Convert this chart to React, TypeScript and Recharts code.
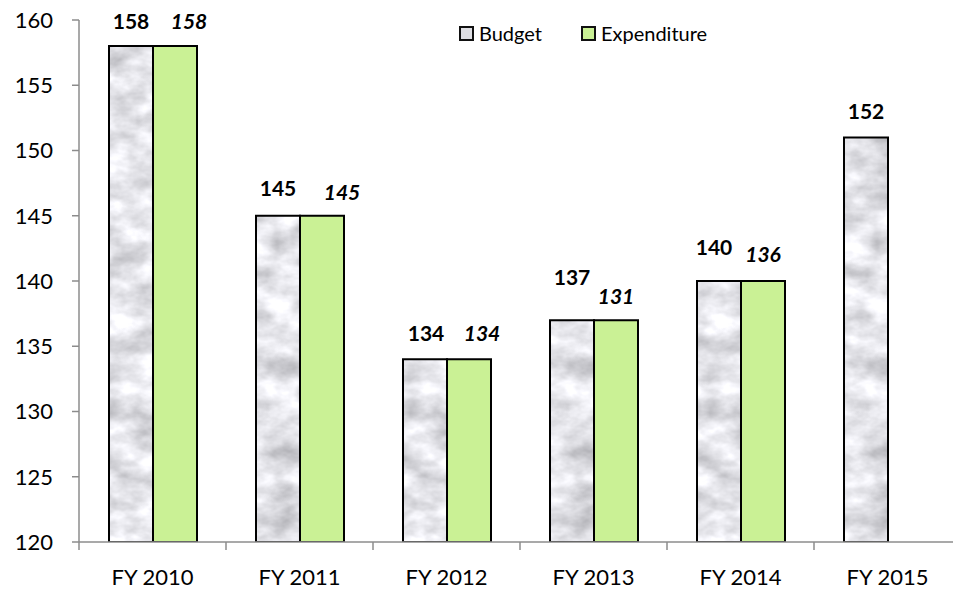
import React from "react"
import { BarChart, Bar, XAxis, YAxis, LabelList } from "recharts"

const years = ["FY 2010", "FY 2011", "FY 2012", "FY 2013", "FY 2014", "FY 2015"]
const budget = [158, 145, 134, 137, 140, 151]
const expenditure: (number | null)[] = [158, 145, 134, 137, 140, null]
const budgetLabels = ["158", "145", "134", "137", "140", "152"]
const expenditureLabels: (string | null)[] = ["158", "145", "134", "131", "136", null]
const yTicks = [120, 125, 130, 135, 140, 145, 150, 155, 160]
const seriesNames = ["Budget", "Expenditure"]

const chartData = years.map((year, i) => ({
  year,
  budget: budget[i],
  expenditure: expenditure[i],
  budgetLabel: budgetLabels[i],
  expenditureLabel: expenditureLabels[i],
}))

// label placement tweaks (distance above bar top, horizontal nudge)
const budgetLift = [26, 28, 27, 44, 35, 27]
const budgetNudge = [0, 0, 1, 0, -5, 0]
const expLift = [26, 24, 27, 25, 28]
const expNudge = [14, 20, 13, 0, 0]

const FONT = "Lato, 'Open Sans', sans-serif"
const GREEN = "#caf195"
const MARBLE = "#dedee3"
const AXIS = "#8c8c8c"

function makeLabel(lift: number[], nudge: number[], italic: boolean) {
  return (props: any) => {
    const { x, y, width, value, index } = props
    if (value == null || value === "") return null
    return (
      <text
        x={Number(x) + Number(width) / 2 + (nudge[index] ?? 0)}
        y={Number(y) - (lift[index] ?? 27)}
        textAnchor="middle"
        dominantBaseline="central"
        fontFamily={FONT}
        fontSize={21}
        fontWeight="bold"
        fontStyle={italic ? "italic" : "normal"}
        fill="#000"
      >
        {value}
      </text>
    )
  }
}

function CategoryTick(props: any) {
  const { x, y, payload } = props
  const half = payload?.offset || 73.5
  return (
    <g>
      <line x1={x - half} x2={x - half} y1={y} y2={y + 8} stroke={AXIS} strokeWidth={1.5} />
      <text x={x} y={y + 34} textAnchor="middle" dominantBaseline="central" fontFamily={FONT} fontSize={22} fill="#000">
        {payload.value}
      </text>
    </g>
  )
}

function LegendBox() {
  const swatches = [MARBLE, GREEN]
  return (
    <div
      style={{
        position: "absolute",
        left: 459,
        top: 21,
        display: "flex",
        alignItems: "center",
        fontFamily: FONT,
        fontSize: 20,
        lineHeight: "24px",
        color: "#000",
      }}
    >
      {seriesNames.map((name, i) => (
        <div key={name} style={{ display: "flex", alignItems: "center", marginLeft: i ? 39 : 0 }}>
          <span
            style={{
              display: "inline-block",
              width: 11,
              height: 11,
              background: swatches[i],
              border: "2px solid #111",
              marginRight: 5,
            }}
          />
          <span>{name}</span>
        </div>
      ))}
    </div>
  )
}

export default function App() {
  return (
    <div style={{ position: "fixed", left: 0, top: 0, width: 953, height: 589, overflow: "hidden", background: "#fff" }}>
      <BarChart
        width={961}
        height={589}
        data={chartData}
        margin={{ top: 20, right: 0, bottom: 0, left: 0 }}
        barCategoryGap={30}
        barGap={0}
      >
        <defs>
          <filter id="marbleNoise" x="0" y="0" width="100%" height="100%" colorInterpolationFilters="sRGB">
            <feTurbulence type="fractalNoise" baseFrequency="0.03 0.045" numOctaves={4} seed={11} />
            <feColorMatrix
              type="matrix"
              values="0.45 0 0 0 0.67  0.45 0 0 0 0.67  0.45 0 0 0 0.69  0 0 0 0 1"
            />
          </filter>
          <pattern id="marble" patternUnits="userSpaceOnUse" x="0" y="0" width="300" height="600">
            <rect width="300" height="600" filter="url(#marbleNoise)" />
          </pattern>
        </defs>
        <XAxis
          dataKey="year"
          height={47}
          tickLine={false}
          tickSize={0}
          tickMargin={0}
          axisLine={{ stroke: AXIS, strokeWidth: 1.5 }}
          tick={<CategoryTick />}
          interval={0}
        />
        <YAxis
          width={79}
          domain={[120, 160]}
          ticks={yTicks}
          allowDataOverflow
          tickSize={7}
          tickMargin={19}
          axisLine={{ stroke: AXIS, strokeWidth: 1.5 }}
          tickLine={{ stroke: AXIS, strokeWidth: 1.5 }}
          tick={{ fill: "#000", fontSize: 22, fontFamily: FONT }}
        />
        <Bar dataKey="budget" name={seriesNames[0]} fill="url(#marble)" stroke="#000" strokeWidth={2} isAnimationActive={false}>
          <LabelList dataKey="budgetLabel" content={makeLabel(budgetLift, budgetNudge, false)} />
        </Bar>
        <Bar dataKey="expenditure" name={seriesNames[1]} fill={GREEN} stroke="#000" strokeWidth={2} isAnimationActive={false}>
          <LabelList dataKey="expenditureLabel" content={makeLabel(expLift, expNudge, true)} />
        </Bar>
      </BarChart>
      <LegendBox />
    </div>
  )
}
